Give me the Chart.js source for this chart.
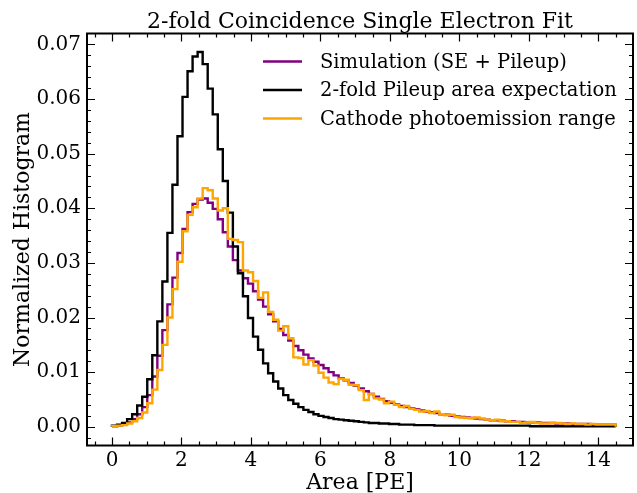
<!DOCTYPE html>
<html lang="en">
<head>
<meta charset="UTF-8">
<title>2-fold Coincidence Single Electron Fit</title>
<script src="https://cdn.jsdelivr.net/npm/chart.js"></script>
<style>
  body { margin: 0; background: #fff; }
  #chart { display: block; }
</style>
</head>
<body>
<canvas id="chart" width="637" height="493"></canvas>
<script>
// histogram binning (100 bins from 0 to 14.5 PE)
const binLo = 0;
const binHi = 14.5;
const nBins = 100;

const seriesNames = ['Simulation (SE + Pileup)', '2-fold Pileup area expectation', 'Cathode photoemission range'];

const simulation = [
  0.0001, 0.0002, 0.0005, 0.0008, 0.0014, 0.0023, 0.0036, 0.0058, 0.0092, 0.0130,
  0.0177, 0.0224, 0.0273, 0.0318, 0.0362, 0.0393, 0.0408, 0.0416, 0.0418, 0.0410,
  0.0399, 0.0380, 0.0356, 0.0330, 0.0305, 0.0286, 0.0272, 0.0262, 0.0248, 0.0233,
  0.0220, 0.0206, 0.0193, 0.0179, 0.0168, 0.0158, 0.0148, 0.0140, 0.0132, 0.0125,
  0.0119, 0.0113, 0.0107, 0.0100, 0.0094, 0.0089, 0.0085, 0.0080, 0.0075, 0.0070,
  0.0065, 0.0060, 0.0055, 0.0051, 0.0047, 0.0044, 0.0041, 0.0038, 0.0036, 0.0034,
  0.0032, 0.0030, 0.0028, 0.0026, 0.0025, 0.0023, 0.0022, 0.0020, 0.0019, 0.0018,
  0.0017, 0.0016, 0.0015, 0.0014, 0.0013, 0.0012, 0.0012, 0.0011, 0.0010, 0.0010,
  0.0009, 0.0009, 0.0008, 0.0008, 0.0008, 0.0007, 0.0007, 0.0007, 0.0006, 0.0006,
  0.0006, 0.0005, 0.0005, 0.0005, 0.0005, 0.0004, 0.0004, 0.0004, 0.0004, 0.0004
];

const pileup = [
  0.0002, 0.0004, 0.0007, 0.0014, 0.0023, 0.0039, 0.0055, 0.0087, 0.0131, 0.0193,
  0.0266, 0.0355, 0.0443, 0.0532, 0.0604, 0.0651, 0.0678, 0.0686, 0.0664, 0.0619,
  0.0572, 0.0508, 0.0450, 0.0392, 0.0330, 0.0281, 0.0239, 0.0199, 0.0165, 0.0141,
  0.0116, 0.0098, 0.0083, 0.0070, 0.0058, 0.0049, 0.0042, 0.0036, 0.0031, 0.0027,
  0.0023, 0.0020, 0.0018, 0.0016, 0.0014, 0.0013, 0.0012, 0.0011, 0.0010, 0.0009,
  0.0008, 0.0007, 0.0007, 0.0006, 0.0006, 0.0005, 0.0005, 0.0004, 0.0004, 0.0004,
  0.0003, 0.0003, 0.0003, 0.0003, 0.0002, 0.0002, 0.0002, 0.0002, 0.0002, 0.0002,
  0.0002, 0.0002, 0.0002, 0.0002, 0.0002, 0.0002, 0.0002, 0.0002, 0.0002, 0.0002,
  0.0002, 0.0002, 0.0002, 0.0001, 0.0001, 0.0001, 0.0001, 0.0001, 0.0001, 0.0001,
  0.0001, 0.0001, 0.0001, 0.0001, 0.0001, 0.0001, 0.0001, 0.0001, 0.0001, 0.0001
];

const cathode = [
  0.0001, 0.0002, 0.0003, 0.0006, 0.0010, 0.0016, 0.0026, 0.0043, 0.0068, 0.0104,
  0.0150, 0.0200, 0.0252, 0.0302, 0.0358, 0.0388, 0.0402, 0.0418, 0.0437, 0.0433,
  0.0418, 0.0396, 0.0400, 0.0344, 0.0342, 0.0338, 0.0286, 0.0283, 0.0267, 0.0236,
  0.0246, 0.0210, 0.0196, 0.0176, 0.0184, 0.0162, 0.0127, 0.0126, 0.0114, 0.0122,
  0.0112, 0.0099, 0.0090, 0.0081, 0.0078, 0.0088, 0.0086, 0.0077, 0.0076, 0.0067,
  0.0049, 0.0060, 0.0052, 0.0050, 0.0043, 0.0046, 0.0040, 0.0036, 0.0038, 0.0033,
  0.0031, 0.0028, 0.0029, 0.0025, 0.0028, 0.0023, 0.0021, 0.0022, 0.0018, 0.0017,
  0.0016, 0.0016, 0.0017, 0.0015, 0.0013, 0.0012, 0.0013, 0.0010, 0.0010, 0.0009,
  0.0009, 0.0007, 0.0008, 0.0009, 0.0007, 0.0006, 0.0006, 0.0007, 0.0007, 0.0006,
  0.0005, 0.0006, 0.0005, 0.0005, 0.0004, 0.0005, 0.0004, 0.0004, 0.0004, 0.0004
];

const xTicks = [0, 2, 4, 6, 8, 10, 12, 14];
const yTicks = [0.00, 0.01, 0.02, 0.03, 0.04, 0.05, 0.06, 0.07];

const FONT = '"DejaVu Serif", serif';
const colors = ['#800080', '#000000', '#ffa500'];

// step outline like matplotlib histtype='step'
function stepPoints(values) {
  const w = (binHi - binLo) / nBins;
  const pts = [{ x: binLo, y: 0 }];
  values.forEach((v, i) => pts.push({ x: binLo + i * w, y: v }));
  pts.push({ x: binHi, y: values[values.length - 1] });
  pts.push({ x: binHi, y: 0 });
  return pts;
}

const decorations = {
  id: 'decorations',
  afterDraw(chart) {
    const { ctx, chartArea: a, scales: { x, y } } = chart;
    ctx.save();
    ctx.strokeStyle = '#000';
    ctx.fillStyle = '#000';

    // inward ticks on all four sides
    ctx.lineWidth = 1.2;
    ctx.beginPath();
    for (let v = -0.5; v <= 15; v += 0.5) {
      const px = Math.round(x.getPixelForValue(v)) + 0.5;
      if (px < a.left || px > a.right) continue;
      const len = xTicks.includes(v) ? 8 : 4;
      ctx.moveTo(px, a.bottom); ctx.lineTo(px, a.bottom - len);
      ctx.moveTo(px, a.top); ctx.lineTo(px, a.top + len);
    }
    for (let k = -2; k <= 36; k++) {
      const v = k * 0.002;
      const py = Math.round(y.getPixelForValue(v)) + 0.5;
      if (py < a.top || py > a.bottom) continue;
      const len = k % 5 === 0 ? 8 : 4;
      ctx.moveTo(a.left, py); ctx.lineTo(a.left + len, py);
      ctx.moveTo(a.right, py); ctx.lineTo(a.right - len, py);
    }
    ctx.stroke();

    ctx.lineWidth = 2;
    ctx.strokeRect(a.left, a.top, a.right - a.left, a.bottom - a.top);

    // title and axis labels
    const cx = (a.left + a.right) / 2;
    ctx.textAlign = 'center';
    ctx.textBaseline = 'alphabetic';
    ctx.font = '22px ' + FONT;
    ctx.fillText('2-fold Coincidence Single Electron Fit', cx, 28);
    ctx.fillText('Area [PE]', cx, 489);
    ctx.save();
    ctx.translate(29, (a.top + a.bottom) / 2);
    ctx.rotate(-Math.PI / 2);
    ctx.fillText('Normalized Histogram', 0, 0);
    ctx.restore();

    // legend
    ctx.font = '19.5px ' + FONT;
    ctx.textAlign = 'left';
    ctx.textBaseline = 'middle';
    seriesNames.forEach((name, i) => {
      const ly = 61.5 + i * 28.5;
      ctx.strokeStyle = colors[i];
      ctx.lineWidth = 2.4;
      ctx.beginPath();
      ctx.moveTo(263, ly); ctx.lineTo(302, ly);
      ctx.stroke();
      ctx.fillText(name, 320, ly + 1);
    });
    ctx.restore();
  }
};

new Chart(document.getElementById('chart'), {
  type: 'line',
  data: {
    datasets: [simulation, pileup, cathode].map((vals, i) => ({
      label: seriesNames[i],
      data: stepPoints(vals),
      borderColor: colors[i],
      borderWidth: 2.4,
      pointRadius: 0,
      stepped: 'before',
      fill: false,
      order: 3 - i
    }))
  },
  options: {
    responsive: false,
    animation: false,
    devicePixelRatio: 1,
    layout: { padding: { top: 33.5, right: 4, left: 0, bottom: 0 } },
    plugins: { legend: { display: false }, title: { display: false }, tooltip: { enabled: false } },
    scales: {
      x: {
        type: 'linear',
        min: -0.72,
        max: 15.0,
        afterBuildTicks: s => { s.ticks = xTicks.map(v => ({ value: v })); },
        afterFit: s => { s.height = 47.5; },
        grid: { display: false, drawTicks: false },
        border: { display: false },
        ticks: { font: { family: FONT, size: 20 }, color: '#000', padding: 3, maxRotation: 0 }
      },
      y: {
        type: 'linear',
        min: -0.00343,
        max: 0.0720,
        afterBuildTicks: s => { s.ticks = yTicks.map(v => ({ value: v })); },
        afterFit: s => { s.width = 87; },
        grid: { display: false, drawTicks: false },
        border: { display: false },
        ticks: {
          font: { family: FONT, size: 20 }, color: '#000', padding: 6,
          callback: v => v.toFixed(2)
        }
      }
    }
  },
  plugins: [decorations]
});
</script>
</body>
</html>
